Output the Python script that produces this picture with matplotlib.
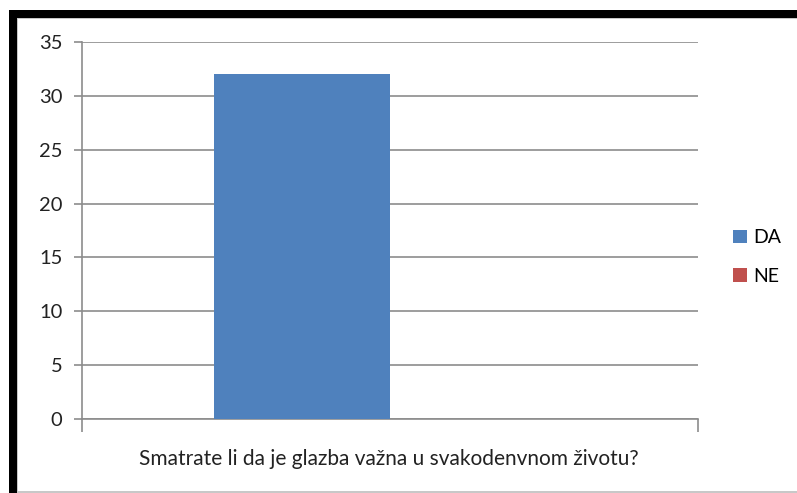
import matplotlib.pyplot as plt
from matplotlib.patches import Rectangle
import numpy as np

plt.rcParams['font.family'] = ['Lato', 'DejaVu Sans']

category = 'Smatrate li da je glazba važna u svakodenvnom životu?'
series = ['DA', 'NE']
values = [32, 0]
colors = ['#4F81BD', '#C0504D']

W, H = 797, 493
fig = plt.figure(figsize=(W / 100, H / 100), dpi=100)


def px(x0, y0, x1, y1, **kw):
    # rectangle given in pixel coords (top-left origin)
    fig.add_artist(Rectangle((x0 / W, 1 - y1 / H), (x1 - x0) / W, (y1 - y0) / H,
                             transform=fig.transFigure, lw=0, **kw))


# screenshot frame
px(9, 10, 797, 18, color='black')
px(9, 10, 17, 493, color='black')
px(17, 18, 797, 19, color='#c8c8c8')
px(17, 18, 18, 493, color='#c8c8c8')
px(17, 491, 797, 493, color='#c8c8c8')

ax = fig.add_axes([82 / W, 74 / H, (698 - 82) / W, (419 - 42) / H])

bar_width = 0.286
offsets = np.array([-0.5, 0.5]) * bar_width
for i in range(len(series)):
    ax.bar(offsets[i], values[i], width=bar_width, color=colors[i],
           label=series[i], zorder=3)

ax.set_xlim(-0.5, 0.5)
ax.set_ylim(0, 35)
ax.set_yticks(range(0, 36, 5))
ax.yaxis.grid(True, color='#8c8c8c', lw=1.2, zorder=0)
ax.set_xticks([-0.5, 0.5])
ax.set_xticklabels(['', ''])
ax.tick_params(axis='x', length=9, width=1.2, color='#8c8c8c', direction='out')
ax.tick_params(axis='y', length=6, width=1.2, color='#8c8c8c', labelsize=14.5,
               labelcolor='#222222', pad=8)
for s in ['top', 'right']:
    ax.spines[s].set_visible(False)
for s in ['left', 'bottom']:
    ax.spines[s].set_color('#8c8c8c')
    ax.spines[s].set_linewidth(1.2)

fig.text(389 / W, 1 - 459 / H, category, ha='center', va='center',
         fontsize=15, color='#222222')

ax.legend(loc='center left', bbox_to_anchor=(733 / W, 1 - 257 / H),
          bbox_transform=fig.transFigure, frameon=False, fontsize=14,
          handlelength=0.7, handleheight=0.7, handletextpad=0.35,
          labelspacing=1.1, borderpad=0, borderaxespad=0)

fig.savefig('out.png', dpi=100)
